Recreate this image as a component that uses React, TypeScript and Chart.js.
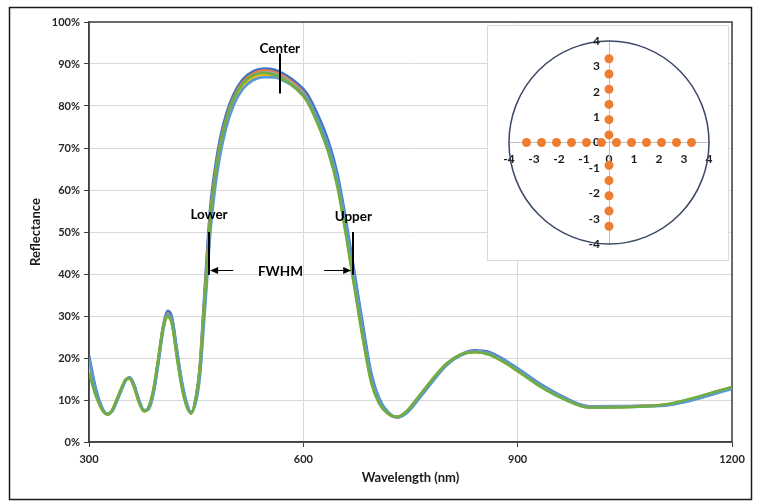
import React, { useEffect, useRef } from "react";
import { Chart, registerables } from "chart.js";

Chart.register(...registerables);

// ---------- Main chart data ----------
const wavelengths = [
  300, 310, 320, 326, 332, 338, 345, 352, 357, 363, 370, 377, 383, 390, 397, 404, 410, 416, 423, 430,
  437, 443, 450, 455, 460, 465, 470, 476, 483, 492, 502, 515, 530, 545, 560, 575, 590, 605, 620, 635,
  648, 660, 672, 684, 695, 706, 718, 731, 745, 760, 780, 800, 820, 840, 860, 880, 900, 930, 960, 1000,
  1100, 1200,
];

const seriesBlue = [
  20.5, 12.4, 7.6, 6.7, 7.3, 9.4, 12.3, 14.9, 15.4, 13.6, 9.9, 7.5, 7.8, 11.6, 19.2, 27.8, 31.2, 29.8, 22.0, 14.2,
  8.9, 6.8, 11.0, 17.8, 31.0, 44.5, 56.2, 64.6, 71.8, 78.0, 82.6, 86.3, 88.3, 88.9, 88.6, 87.4, 85.6, 83.0, 78.0, 71.6,
  63.6, 52.4, 39.8, 27.2, 16.4, 10.4, 7.2, 5.9, 7.0, 10.0, 14.3, 18.3, 20.8, 21.8, 21.4, 19.7, 17.5, 14.0, 11.1, 8.5,
  8.7, 12.7,
];
const seriesOrange = [
  19.0, 11.8, 7.4, 6.6, 7.4, 9.6, 12.5, 14.9, 15.2, 13.4, 9.7, 7.4, 8.0, 12.1, 19.6, 27.6, 30.5, 28.9, 21.0, 13.5,
  8.6, 6.9, 10.8, 17.2, 29.6, 42.3, 54.2, 63.0, 70.4, 76.9, 81.8, 85.6, 87.7, 88.4, 88.0, 86.8, 84.9, 82.0, 76.7, 70.0,
  61.7, 50.3, 37.6, 25.2, 15.0, 9.7, 6.9, 5.9, 7.2, 10.3, 14.6, 18.5, 20.8, 21.6, 21.1, 19.4, 17.2, 13.7, 10.9, 8.4,
  8.8, 13.0,
];
const seriesGray = [
  18.8, 11.6, 7.4, 6.6, 7.4, 9.6, 12.5, 14.9, 15.2, 13.3, 9.7, 7.4, 8.0, 12.0, 19.4, 27.3, 30.2, 28.6, 20.8, 13.4,
  8.6, 6.9, 10.6, 16.8, 28.8, 41.3, 53.3, 62.4, 69.9, 76.5, 81.4, 85.2, 87.3, 88.0, 87.7, 86.5, 84.6, 81.8, 76.5, 69.8,
  61.5, 50.0, 37.4, 25.0, 14.9, 9.6, 6.9, 5.9, 7.2, 10.3, 14.6, 18.4, 20.7, 21.5, 21.0, 19.3, 17.1, 13.6, 10.8, 8.3,
  8.7, 12.9,
];
const seriesYellow = [
  17.8, 11.2, 7.3, 6.6, 7.4, 9.7, 12.6, 14.9, 15.1, 13.1, 9.5, 7.3, 8.1, 12.2, 19.3, 26.9, 29.6, 28.3, 20.6, 13.3,
  8.6, 7.0, 10.3, 16.2, 27.6, 39.8, 51.8, 61.0, 68.8, 75.6, 80.7, 84.6, 86.8, 87.5, 87.2, 86.0, 84.1, 81.3, 76.0, 69.2,
  60.8, 49.2, 36.5, 24.1, 14.3, 9.3, 6.8, 6.0, 7.4, 10.5, 14.8, 18.5, 20.7, 21.4, 20.9, 19.1, 16.9, 13.5, 10.7, 8.3,
  8.7, 12.9,
];
const seriesLightBlue = [
  19.8, 12.0, 7.5, 6.7, 7.2, 9.3, 12.2, 14.8, 15.3, 13.6, 10.0, 7.6, 7.7, 11.3, 18.6, 26.8, 30.3, 29.2, 21.8, 14.3,
  9.2, 7.2, 9.8, 15.3, 26.2, 38.2, 50.2, 59.8, 67.8, 74.8, 80.0, 84.0, 86.2, 86.9, 86.8, 85.8, 84.2, 81.7, 76.8, 70.4,
  62.6, 51.4, 38.9, 26.4, 15.9, 10.2, 7.1, 5.9, 7.0, 9.9, 14.2, 18.2, 20.6, 21.6, 21.2, 19.6, 17.4, 13.9, 11.0, 8.4,
  8.6, 12.6,
];
const seriesGreen = [
  16.5, 10.8, 7.2, 6.5, 7.5, 9.8, 12.7, 15.0, 15.1, 13.1, 9.4, 7.3, 8.2, 12.4, 19.9, 27.6, 30.0, 28.2, 20.2, 12.9,
  8.3, 6.9, 10.9, 17.0, 29.0, 41.6, 53.6, 62.6, 70.1, 76.6, 81.5, 85.3, 87.3, 87.9, 87.4, 86.1, 84.1, 81.2, 75.8, 69.0,
  60.6, 49.0, 36.3, 24.0, 14.2, 9.2, 6.8, 6.0, 7.4, 10.5, 14.8, 18.6, 20.8, 21.4, 20.8, 19.1, 16.9, 13.4, 10.6, 8.2,
  8.8, 13.1,
];

const seriesList = [seriesBlue, seriesOrange, seriesGray, seriesYellow, seriesLightBlue, seriesGreen];
const seriesNames = ["S1", "S2", "S3", "S4", "S5", "S6"];
const seriesColors = ["#4472C4", "#ED7D31", "#A5A5A5", "#FFC000", "#5B9BD5", "#70AD47"];

const xTicks = [300, 600, 900, 1200];
const yTicks = [0, 10, 20, 30, 40, 50, 60, 70, 80, 90, 100];

// Annotations (data coordinates)
const noteLabels = [
  { text: "Center", x: 567, y: 93.6 },
  { text: "Lower", x: 468, y: 54.2 },
  { text: "Upper", x: 670, y: 53.6 },
  { text: "FWHM", x: 568, y: 40.6 },
];
const noteMarkers = [
  { x: 568, y1: 92.5, y2: 83 },
  { x: 468.5, y1: 50, y2: 39.8 },
  { x: 670, y1: 50, y2: 39.8 },
];
const noteArrows = [
  { from: 502, to: 469.5, y: 41 },
  { from: 629, to: 667, y: 41 },
];

// ---------- Inset data ----------
const insetX = [-3.3, -2.7, -2.1, -1.5, -0.9, -0.3, 0.3, 0.9, 1.5, 2.1, 2.7, 3.3, 0, 0, 0, 0, 0, 0, 0, 0, 0, 0, 0];
const insetY = [0, 0, 0, 0, 0, 0, 0, 0, 0, 0, 0, 0, 3.3, 2.7, 2.1, 1.5, 0.9, 0.3, -0.9, -1.5, -2.1, -2.7, -3.3];
const insetRadius = 4;
const insetTicks = [-4, -3, -2, -1, 0, 1, 2, 3, 4];

const FONT = "Lato, 'Open Sans', 'DejaVu Sans', sans-serif";

export default function App() {
  const mainRef = useRef<HTMLCanvasElement>(null);
  const insetRef = useRef<HTMLCanvasElement>(null);

  useEffect(() => {
    const framePlugin = {
      id: "frame",
      beforeDraw(chart: any) {
        const ctx = chart.ctx;
        ctx.save();
        ctx.fillStyle = "#ffffff";
        ctx.fillRect(0, 0, chart.width, chart.height);
        ctx.strokeStyle = "#1a1a1a";
        ctx.lineWidth = 1.5;
        ctx.strokeRect(9.5, 7.5, 742, 492);
        ctx.restore();
      },
      beforeDatasetsDraw(chart: any) {
        const { ctx, chartArea } = chart;
        ctx.save();
        ctx.strokeStyle = "#404040";
        ctx.lineWidth = 1.5;
        ctx.strokeRect(chartArea.left, chartArea.top, chartArea.right - chartArea.left, chartArea.bottom - chartArea.top);
        ctx.restore();
      },
    };

    const notesPlugin = {
      id: "notes",
      afterDatasetsDraw(chart: any) {
        const { ctx } = chart;
        const xs = chart.scales.x;
        const ys = chart.scales.y;
        ctx.save();
        ctx.strokeStyle = "#000";
        ctx.lineWidth = 2;
        noteMarkers.forEach((m) => {
          const px = Math.round(xs.getPixelForValue(m.x));
          ctx.beginPath();
          ctx.moveTo(px, ys.getPixelForValue(m.y1));
          ctx.lineTo(px, ys.getPixelForValue(m.y2));
          ctx.stroke();
        });
        ctx.lineWidth = 1;
        ctx.fillStyle = "#000";
        noteArrows.forEach((a) => {
          const x0 = xs.getPixelForValue(a.from);
          const x1 = xs.getPixelForValue(a.to);
          const py = Math.round(ys.getPixelForValue(a.y)) + 0.5;
          const dir = x1 > x0 ? 1 : -1;
          ctx.beginPath();
          ctx.moveTo(x0, py);
          ctx.lineTo(x1 - dir * 6, py);
          ctx.stroke();
          ctx.beginPath();
          ctx.moveTo(x1, py);
          ctx.lineTo(x1 - dir * 8, py - 3.5);
          ctx.lineTo(x1 - dir * 8, py + 3.5);
          ctx.closePath();
          ctx.fill();
        });
        ctx.font = `bold 13.5px ${FONT}`;
        ctx.textAlign = "center";
        ctx.textBaseline = "middle";
        noteLabels.forEach((l) => {
          ctx.fillText(l.text, xs.getPixelForValue(l.x), ys.getPixelForValue(l.y));
        });
        ctx.restore();
      },
    };

    const main = new Chart(mainRef.current!, {
      type: "line",
      data: {
        datasets: seriesList
          .map((vals, i) => ({
            label: seriesNames[i],
            data: wavelengths.map((w, j) => ({ x: w, y: vals[j] })),
            borderColor: seriesColors[i],
            backgroundColor: seriesColors[i],
            borderWidth: 2.75,
            pointRadius: 0,
            cubicInterpolationMode: "monotone" as const,
            fill: false,
          }))
          .reverse(),
      },
      options: {
        responsive: false,
        animation: false,
        layout: { padding: { left: 0, right: 28, top: 22, bottom: 0 } },
        plugins: { legend: { display: false }, tooltip: { enabled: false } },
        scales: {
          x: {
            type: "linear",
            min: 300,
            max: 1200,
            afterBuildTicks: (s: any) => {
              s.ticks = xTicks.map((v) => ({ value: v }));
            },
            afterFit: (s: any) => {
              s.height = 62;
            },
            grid: { color: "#d9d9d9", tickColor: "#404040", tickLength: 5, lineWidth: 1 },
            border: { color: "#404040", width: 1.5 },
            ticks: {
              color: "#262626",
              font: { family: FONT, size: 11, weight: "bold" },
              padding: 6,
              maxRotation: 0,
              callback: (v: any) => String(v),
            },
            title: {
              display: true,
              text: "Wavelength (nm)",
              color: "#1a1a1a",
              font: { family: FONT, size: 13, weight: "bold" },
              padding: { top: 0, bottom: 18 },
            },
          },
          y: {
            min: 0,
            max: 100,
            afterBuildTicks: (s: any) => {
              s.ticks = yTicks.map((v) => ({ value: v }));
            },
            afterFit: (s: any) => {
              s.width = 89;
            },
            grid: { color: "#d9d9d9", tickColor: "#404040", tickLength: 5, lineWidth: 1 },
            border: { color: "#404040", width: 1.5 },
            ticks: {
              color: "#262626",
              font: { family: FONT, size: 11, weight: "bold" },
              padding: 4,
              callback: (v: any) => `${v}%`,
            },
            title: {
              display: true,
              text: "Reflectance",
              color: "#1a1a1a",
              font: { family: FONT, size: 13, weight: "bold" },
              padding: { top: 28, bottom: 0 },
            },
          },
        },
      },
      plugins: [framePlugin, notesPlugin],
    } as any);

    const insetFontStr = `bold 12px ${FONT}`;
    const circlePlugin = {
      id: "circle",
      beforeDatasetsDraw(chart: any) {
        const { ctx } = chart;
        const xs = chart.scales.x;
        const ys = chart.scales.y;
        const cx = xs.getPixelForValue(0);
        const cy = ys.getPixelForValue(0);
        const rx = xs.getPixelForValue(insetRadius) - cx;
        const ry = cy - ys.getPixelForValue(insetRadius);
        ctx.save();
        ctx.strokeStyle = "#3b4866";
        ctx.lineWidth = 1.5;
        ctx.beginPath();
        ctx.ellipse(cx, cy, rx, ry, 0, 0, Math.PI * 2);
        ctx.stroke();
        // y-axis tick labels, placed left of the centred axis
        ctx.fillStyle = "#1a1a1a";
        ctx.font = insetFontStr;
        ctx.textAlign = "right";
        ctx.textBaseline = "middle";
        insetTicks.forEach((t) => {
          ctx.fillText(String(t), cx - 9, ys.getPixelForValue(t));
        });
        ctx.restore();
      },
    };

    const tickFont = { family: FONT, size: 12, weight: "bold" };
    const inset = new Chart(insetRef.current!, {
      type: "scatter",
      data: {
        datasets: [
          {
            label: "points",
            data: insetX.map((x, i) => ({ x, y: insetY[i] })),
            backgroundColor: "#ED7D31",
            borderColor: "#ED7D31",
            borderWidth: 0,
            pointRadius: 4.5,
          },
        ],
      },
      options: {
        responsive: false,
        animation: false,
        layout: { padding: { left: 21, right: 19, top: 15, bottom: 16 } },
        plugins: { legend: { display: false }, tooltip: { enabled: false } },
        scales: {
          x: {
            type: "linear",
            min: -4,
            max: 4,
            position: { y: 0 },
            afterBuildTicks: (s: any) => {
              s.ticks = insetTicks.map((v) => ({ value: v }));
            },
            grid: { display: false, drawTicks: false },
            border: { color: "#bfbfbf", width: 1 },
            ticks: { color: "#1a1a1a", font: tickFont, padding: 9, maxRotation: 0 },
          },
          y: {
            type: "linear",
            min: -4,
            max: 4,
            position: { x: 0 },
            afterBuildTicks: (s: any) => {
              s.ticks = insetTicks.map((v) => ({ value: v }));
            },
            grid: { display: false, drawTicks: false },
            border: { color: "#bfbfbf", width: 1 },
            ticks: { display: false },
          },
        },
      },
      plugins: [circlePlugin],
    } as any);

    return () => {
      main.destroy();
      inset.destroy();
    };
  }, []);

  return (
    <div style={{ position: "absolute", left: 0, top: 0, width: 760, height: 504, background: "#fff", overflow: "hidden" }}>
      <canvas
        ref={mainRef}
        width={760}
        height={504}
        style={{ position: "absolute", left: 0, top: 0, width: 760, height: 504 }}
      />
      <div
        style={{
          position: "absolute",
          left: 487,
          top: 25,
          width: 240,
          height: 234,
          border: "1px solid #d9d9d9",
          background: "#fff",
        }}
      >
        <canvas ref={insetRef} width={240} height={234} style={{ display: "block", width: 240, height: 234 }} />
      </div>
    </div>
  );
}
